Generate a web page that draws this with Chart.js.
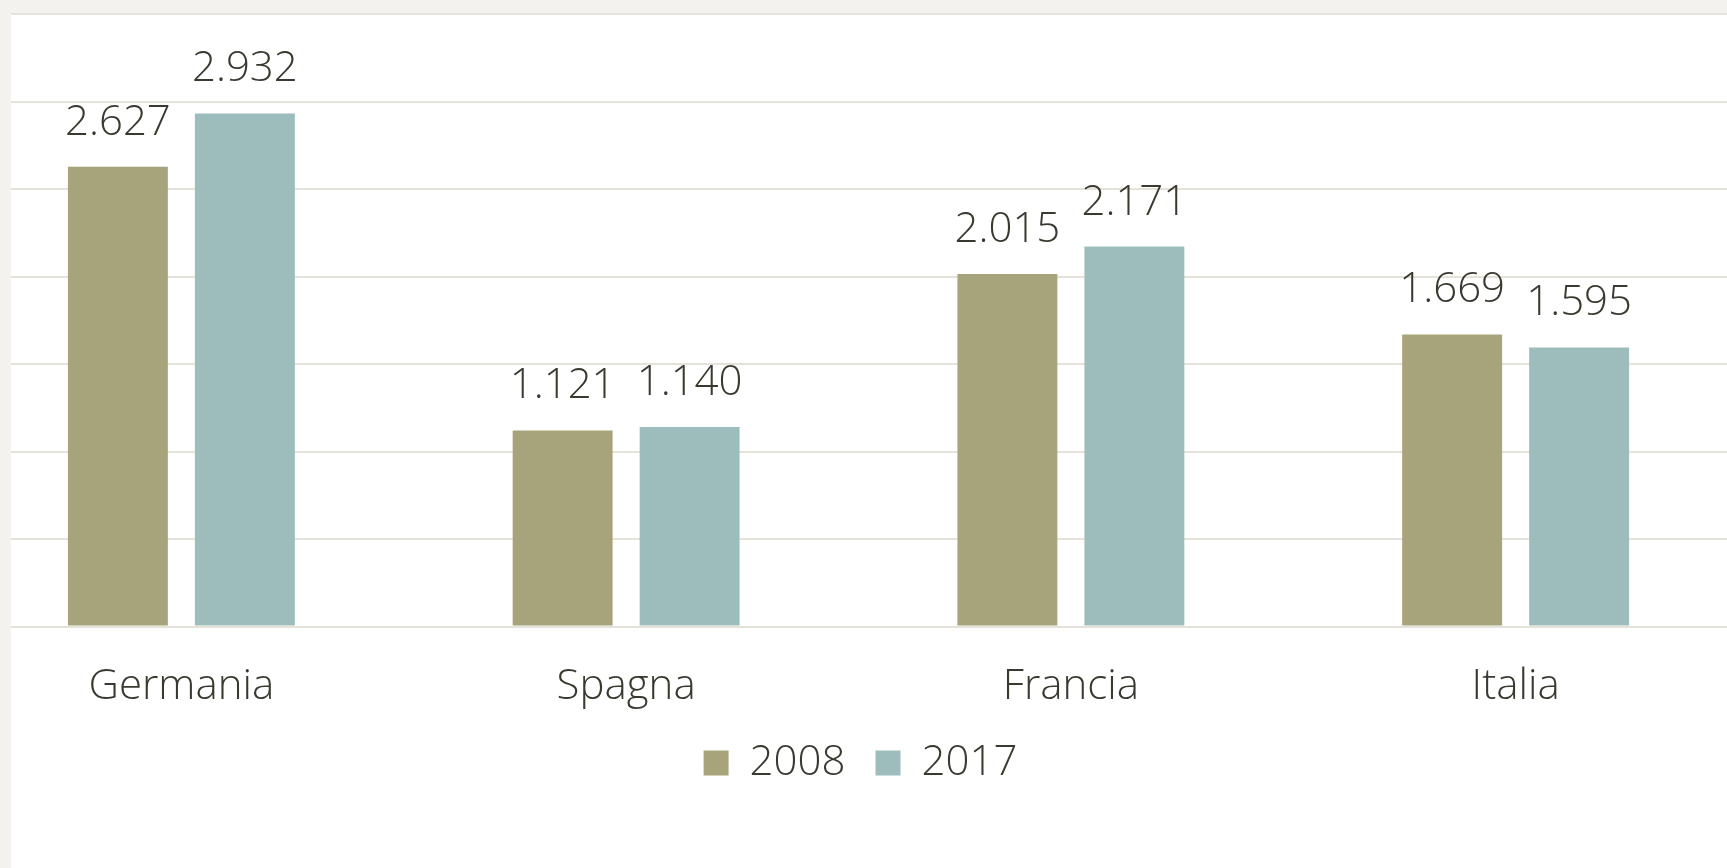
<!DOCTYPE html>
<html>
<head>
<meta charset="utf-8">
<script src="https://cdn.jsdelivr.net/npm/chart.js@4.4.1/dist/chart.umd.min.js"></script>
<style>
  html, body { margin: 0; padding: 0; overflow: hidden; background: #f3f2ee; }
  #panel {
    position: absolute; left: 11px; top: 13px;
    width: 1716px; height: 855px;
    background: #ffffff; overflow: hidden;
  }
  #wrap {
    position: absolute; left: -52px; top: 0;
    width: 1794px; height: 855px;
  }
</style>
</head>
<body>
<div id="panel">
  <div id="wrap"><canvas id="chart"></canvas></div>
</div>
<script>
// countries and values (thousands, shown in Italian format)
const countries = ['Germania', 'Spagna', 'Francia', 'Italia'];
const values2008 = [2627, 1121, 2015, 1669];
const values2017 = [2932, 1140, 2171, 1595];
const seriesLabels = ['2008', '2017'];

const textColor = '#3a3930';
const fontFamily = '"Open Sans", "Segoe UI", sans-serif';

function formatIt(v) {
    const s = String(v);
    return s.length > 3 ? s.slice(0, -3) + '.' + s.slice(-3) : s;
}

// draws the value above every bar
const barValues = {
    id: 'barValues',
    afterDatasetsDraw(chart) {
        const ctx = chart.ctx;
        ctx.save();
        ctx.fillStyle = textColor;
        ctx.font = '300 42px ' + fontFamily;
        ctx.textAlign = 'center';
        ctx.textBaseline = 'alphabetic';
        chart.data.datasets.forEach((ds, i) => {
            chart.getDatasetMeta(i).data.forEach((bar, j) => {
                ctx.fillText(formatIt(ds.data[j]), bar.x, bar.y - 32);
            });
        });
        ctx.restore();
    }
};

// nudge the legend a little to the right, like the original
const legendNudge = {
    id: 'legendNudge',
    afterLayout(chart) {
        if (chart.legend) {
            chart.legend.left += 12;
            chart.legend.right += 12;
        }
    }
};

const ctx = document.getElementById('chart').getContext('2d');
new Chart(ctx, {
    type: 'bar',
    data: {
        labels: countries,
        datasets: [{
            label: seriesLabels[0],
            data: values2008,
            backgroundColor: '#a7a47b'
        }, {
            label: seriesLabels[1],
            data: values2017,
            backgroundColor: '#9dbdbc'
        }]
    },
    options: {
        responsive: true,
        maintainAspectRatio: false,
        animation: false,
        categoryPercentage: 0.571,
        barPercentage: 0.787,
        layout: { padding: { top: 1, right: 15, left: 0, bottom: 74 } },
        scales: {
            x: {
                grid: { display: false },
                border: { display: false },
                ticks: {
                    color: textColor,
                    padding: 27,
                    font: { family: fontFamily, size: 42, weight: 300 }
                },
                afterFit(scale) { scale.height -= 27; }
            },
            y: {
                min: 0,
                max: 3500,
                ticks: { display: false, stepSize: 500 },
                border: { display: false },
                grid: { color: '#e5e2d9', lineWidth: 2, drawTicks: false }
            }
        },
        plugins: {
            legend: {
                position: 'bottom',
                labels: {
                    color: textColor,
                    boxWidth: 25,
                    boxHeight: 25,
                    padding: 30,
                    font: { family: fontFamily, size: 42, weight: 300 }
                }
            },
            tooltip: { enabled: false }
        }
    },
    plugins: [barValues, legendNudge]
});
</script>
</body>
</html>
